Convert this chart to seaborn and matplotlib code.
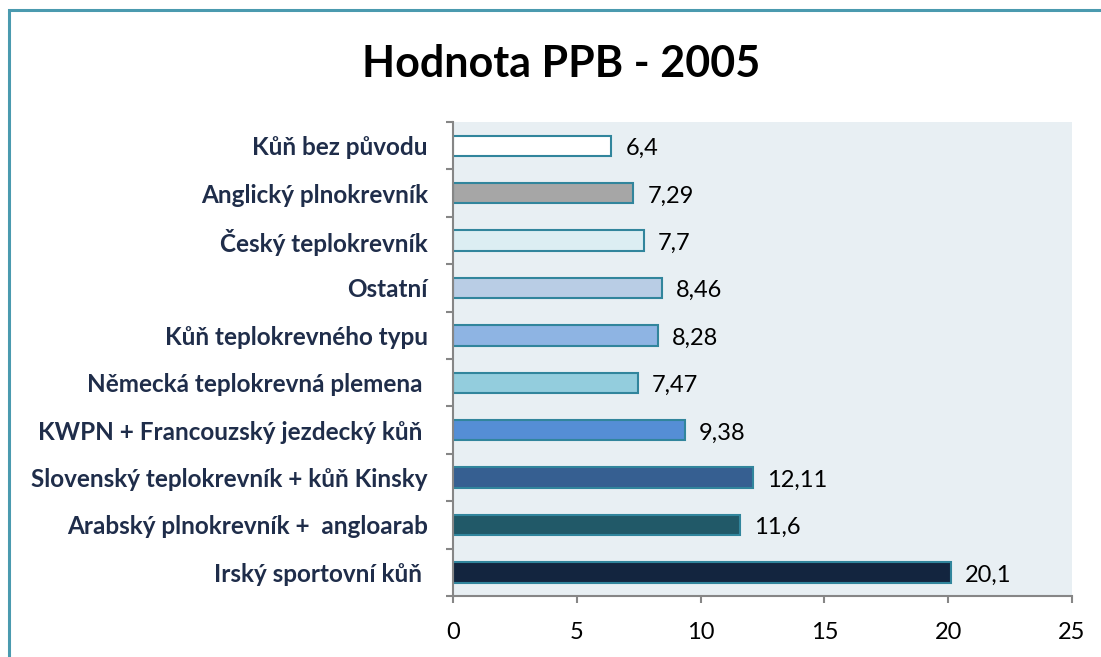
"""Hodnota PPB - 2005: horizontal bar chart by horse breed group."""
import matplotlib

matplotlib.use("Agg")
import matplotlib.pyplot as plt
import pandas as pd
import seaborn as sns
from matplotlib.patches import Rectangle

categories = [
    "Kůň bez původu",
    "Anglický plnokrevník",
    "Český teplokrevník",
    "Ostatní",
    "Kůň teplokrevného typu",
    "Německá teplokrevná plemena ",
    "KWPN + Francouzský jezdecký kůň ",
    "Slovenský teplokrevník + kůň Kinsky",
    "Arabský plnokrevník +  angloarab",
    "Irský sportovní kůň ",
]
values = [6.4, 7.29, 7.7, 8.46, 8.28, 7.47, 9.38, 12.11, 11.6, 20.1]
value_labels = ["6,4", "7,29", "7,7", "8,46", "8,28", "7,47", "9,38", "12,11", "11,6", "20,1"]
bar_colors = [
    "#FFFFFF", "#A6A6A6", "#DCEEF3", "#B9CDE5", "#8EB4E3",
    "#93CDDD", "#558ED5", "#365F91", "#215968", "#13253F",
]
x_ticks = [0, 5, 10, 15, 20, 25]

sns.set_style("white")
plt.rcParams["font.family"] = ["Lato", "DejaVu Sans"]

df = pd.DataFrame({"plemeno": categories, "ppb": values})

fig = plt.figure(figsize=(11.01, 6.57), dpi=100)
ax = fig.add_axes([0.4114, 0.0928, 0.5623, 0.7215])
ax.set_facecolor("#E8EFF3")

sns.barplot(
    data=df,
    x="ppb",
    y="plemeno",
    hue="plemeno",
    palette=bar_colors,
    order=categories,
    hue_order=categories,
    legend=False,
    saturation=1,
    width=0.43,
    edgecolor="#31859C",
    linewidth=1.5,
    ax=ax,
)

# value labels sit a touch below the bar centre, as in the original
for i, (v, lab) in enumerate(zip(values, value_labels)):
    ax.annotate(lab, (v, i), xytext=(10, -2), textcoords="offset points",
                ha="left", va="center", fontsize=17, color="#000000")

ax.set_xlim(0, 25)
ax.set_ylim(len(categories) - 0.5, -0.5)
ax.set_xticks(x_ticks)
ax.set_xticklabels([str(t) for t in x_ticks], fontsize=17, color="#000000")
ax.set_xlabel("")
ax.set_ylabel("")

ax.set_yticks(range(len(categories)))
ax.set_yticklabels(categories, fontsize=17.5, fontweight="bold", color="#1F2D4A")
ax.set_yticks([i - 0.5 for i in range(len(categories) + 1)], minor=True)
ax.tick_params(axis="y", which="major", length=0, pad=18)
ax.tick_params(axis="y", which="minor", length=5, color="#868686", width=1.5, direction="out", left=True)
ax.tick_params(axis="x", length=5, color="#868686", width=1.5, direction="out", bottom=True, pad=14)

for side in ["top", "right"]:
    ax.spines[side].set_visible(False)
for side in ["left", "bottom"]:
    ax.spines[side].set_color("#868686")
    ax.spines[side].set_linewidth(1.5)

fig.text(0.51, 0.903, "Hodnota PPB - 2005", ha="center", va="center",
         fontsize=31, fontweight="bold", color="#000000")

fig.patches.append(Rectangle((9 / 1101, -0.1), 1.2, 1 - 10 / 657 + 0.1,
                             transform=fig.transFigure, fill=False,
                             edgecolor="#4A9AAF", linewidth=2.2))

fig.savefig("out.png", dpi=100)
